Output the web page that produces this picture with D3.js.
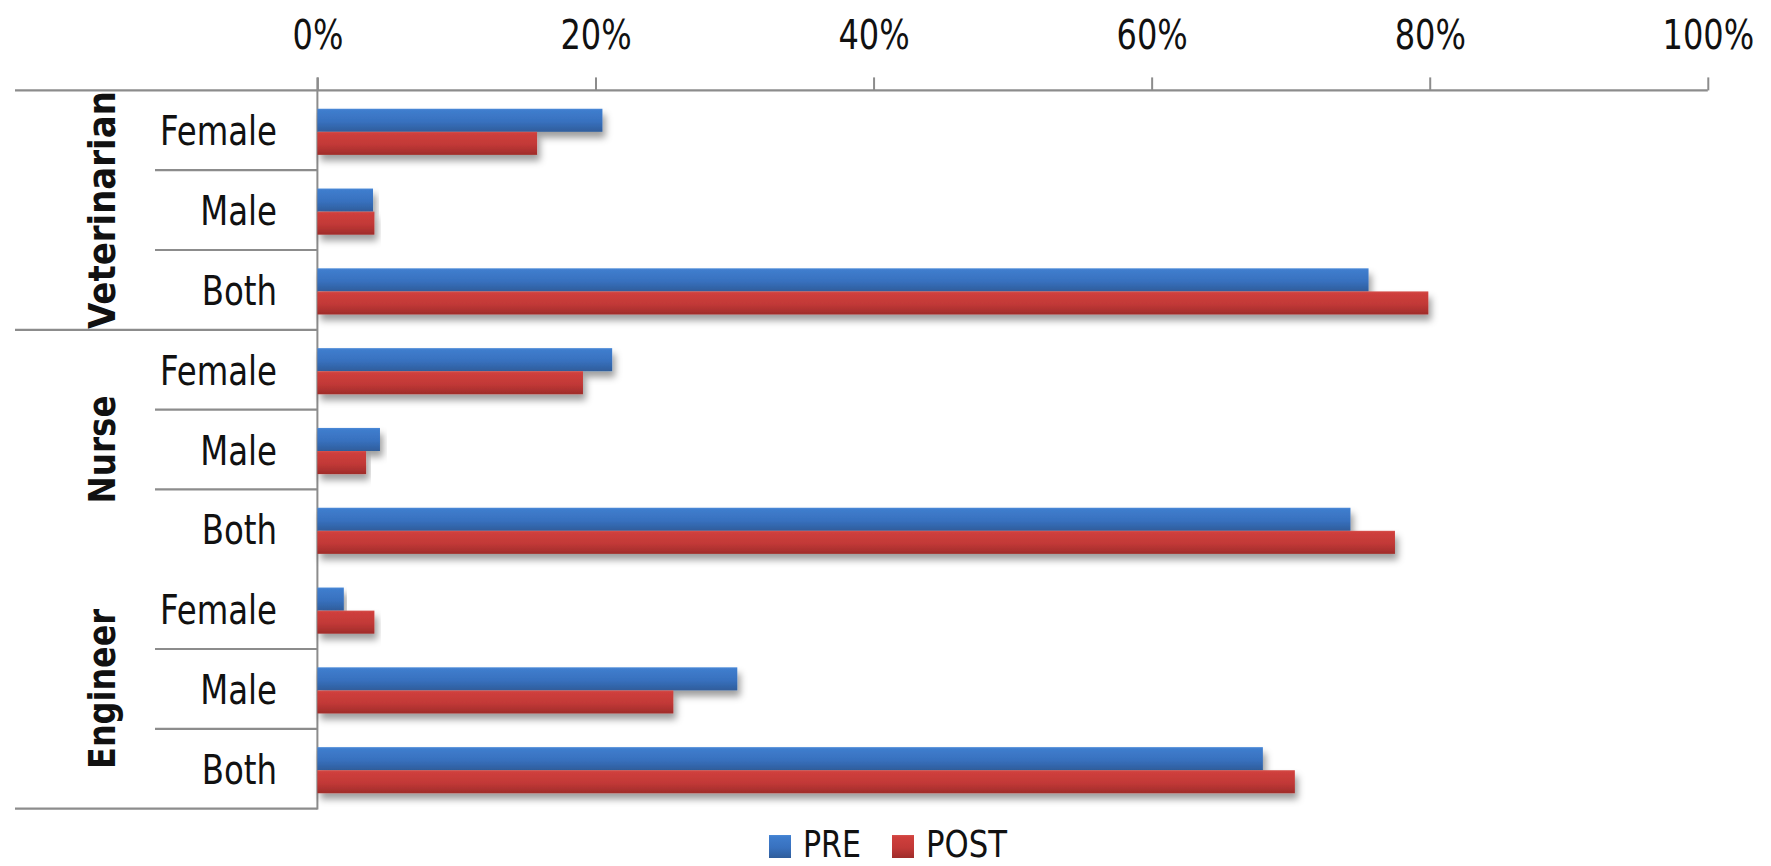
<!DOCTYPE html>
<html>
<head>
<meta charset="utf-8">
<script src="https://cdn.jsdelivr.net/npm/d3@7"></script>
<style>
  html, body { margin: 0; padding: 0; background: #ffffff; }
  svg { display: block; }
</style>
</head>
<body>
<svg id="chart" width="1771" height="866"></svg>
<script>
// ---------------- data ----------------
const groups = ["Veterinarian", "Nurse", "Engineer"];
const subgroups = ["Female", "Male", "Both"];
const series = ["PRE", "POST"];
const preValues  = [0.205, 0.040, 0.756, 0.212, 0.045, 0.743, 0.019, 0.302, 0.680];
const postValues = [0.158, 0.041, 0.799, 0.191, 0.035, 0.775, 0.041, 0.256, 0.703];
const tickValues = [0, 0.2, 0.4, 0.6, 0.8, 1.0];
const tickLabels = ["0%", "20%", "40%", "60%", "80%", "100%"];
const groupsWithSeparator = ["Veterinarian"]; // separator lines drawn below these groups

(function () {
// ---------------- build rows ----------------
const rows = [];
groups.forEach((g, gi) => {
  subgroups.forEach((s, si) => {
    const i = gi * subgroups.length + si;
    rows.push({ id: g + "|" + s, group: g, sub: s, PRE: preValues[i], POST: postValues[i] });
  });
});

const svg = d3.select("#chart");

const plotLeft = 317.4, plotRight = 1707.8, plotTop = 90.4, plotBottom = 808.6;
const labelLineLeft = 15, subLineLeft = 155;

const x = d3.scaleLinear().domain([0, 1]).range([plotLeft, plotRight]);
const y = d3.scaleBand().domain(rows.map(d => d.id)).range([plotTop, plotBottom]).padding(0);
const yInner = d3.scaleBand().domain(series).range([0, y.bandwidth()]).paddingInner(0).paddingOuter(0.73);
const color = d3.scaleOrdinal().domain(series).range(["blue", "red"]);

// condense text horizontally (reference font is narrow, Calibri-like)
function condense(sel, k) {
  sel.each(function () {
    const w = this.getComputedTextLength();
    d3.select(this).attr("textLength", (w * k).toFixed(1)).attr("lengthAdjust", "spacingAndGlyphs");
  });
}

// ---------------- defs ----------------
const defs = svg.append("defs");
const grads = {
  blue: [["0%", "#4b8ad8"], ["8%", "#3f7dcd"], ["55%", "#3871bf"], ["100%", "#2f5d9b"]],
  red:  [["0%", "#d6524e"], ["8%", "#cf3f3c"], ["55%", "#c23937"], ["100%", "#9f2c2a"]]
};
Object.entries(grads).forEach(([k, stops]) => {
  const lg = defs.append("linearGradient").attr("id", "grad-" + k)
    .attr("x1", 0).attr("y1", 0).attr("x2", 0).attr("y2", 1);
  stops.forEach(([o, c]) => lg.append("stop").attr("offset", o).attr("stop-color", c));
});
const f = defs.append("filter").attr("id", "shadow")
  .attr("x", "-5%").attr("y", "-30%").attr("width", "115%").attr("height", "190%");
f.append("feDropShadow").attr("dx", 3).attr("dy", 6).attr("stdDeviation", 3.5)
  .attr("flood-color", "#000").attr("flood-opacity", 0.38);

const lineColor = "#8c8c8c";
const labelFont = "'Liberation Sans Narrow', 'Arial Narrow', 'DejaVu Sans Condensed', 'Liberation Sans', sans-serif";

// ---------------- top axis ----------------
const axis = d3.axisTop(x)
  .tickValues(tickValues)
  .tickFormat((d, i) => tickLabels[i])
  .tickSize(13)
  .tickPadding(28);
const gAxis = svg.append("g").attr("transform", `translate(0,${plotTop})`).call(axis);
gAxis.select(".domain").remove();
gAxis.selectAll(".tick line").attr("stroke", lineColor).attr("stroke-width", 2);
gAxis.selectAll(".tick text")
  .attr("font-family", labelFont)
  .attr("font-size", 40)
  .attr("fill", "#111")
  .call(condense, 0.89);

// full top line (axis + label area)
svg.append("line")
  .attr("x1", labelLineLeft).attr("x2", plotRight)
  .attr("y1", plotTop).attr("y2", plotTop)
  .attr("stroke", lineColor).attr("stroke-width", 2.2);

// vertical category axis line
svg.append("line")
  .attr("x1", plotLeft).attr("x2", plotLeft)
  .attr("y1", plotTop - 13).attr("y2", plotBottom + 1)
  .attr("stroke", lineColor).attr("stroke-width", 2);

// sub separators (between subgroups within each group)
const subSepRows = rows.filter(d => d.sub !== subgroups[0]);
svg.append("g").selectAll("line").data(subSepRows).join("line")
  .attr("x1", subLineLeft).attr("x2", plotLeft)
  .attr("y1", d => y(d.id)).attr("y2", d => y(d.id))
  .attr("stroke", lineColor).attr("stroke-width", 2.2);

// group separators
const lastRows = rows.filter(d => d.sub === subgroups[subgroups.length - 1] &&
  (groupsWithSeparator.includes(d.group) || d.group === groups[groups.length - 1]));
svg.append("g").selectAll("line").data(lastRows).join("line")
  .attr("x1", labelLineLeft).attr("x2", plotLeft)
  .attr("y1", d => y(d.id) + y.bandwidth()).attr("y2", d => y(d.id) + y.bandwidth())
  .attr("stroke", lineColor).attr("stroke-width", 2.2);

// ---------------- bars ----------------
const gBars = svg.append("g").attr("transform", "translate(0,1.5)");
series.forEach(s => {
  gBars.append("g").selectAll("rect").data(rows).join("rect")
    .attr("x", x(0))
    .attr("y", d => y(d.id) + yInner(s))
    .attr("width", d => x(d[s]) - x(0))
    .attr("height", yInner.bandwidth())
    .attr("fill", `url(#grad-${color(s)})`)
    .attr("filter", "url(#shadow)");
});

// ---------------- subgroup labels ----------------
svg.append("g").selectAll("text").data(rows).join("text")
  .attr("x", 277)
  .attr("y", d => y(d.id) + y.bandwidth() / 2 + 15)
  .attr("text-anchor", "end")
  .attr("font-family", labelFont)
  .attr("font-size", 40)
  .attr("fill", "#111")
  .text(d => d.sub)
  .call(condense, 0.9);

// ---------------- group labels ----------------
const groupLen = { "Veterinarian": 238, "Nurse": 108, "Engineer": 160 };
svg.append("g").selectAll("text").data(groups).join("text")
  .attr("transform", g => {
    const first = y(g + "|" + subgroups[0]);
    const last = y(g + "|" + subgroups[subgroups.length - 1]) + y.bandwidth();
    return `translate(115,${(first + last) / 2}) rotate(-90)`;
  })
  .attr("text-anchor", "middle")
  .attr("font-family", "'DejaVu Sans', sans-serif")
  .attr("font-weight", "bold")
  .attr("font-size", 38)
  .attr("textLength", g => groupLen[g])
  .attr("lengthAdjust", "spacingAndGlyphs")
  .attr("fill", "#111")
  .text(g => g);

// ---------------- legend ----------------
const legend = svg.append("g").attr("transform", "translate(769,834)");
const legendTextLen = { "PRE": 58, "POST": 81 };
let lx = 0;
series.forEach(s => {
  const item = legend.append("g").attr("transform", `translate(${lx},0)`);
  item.append("rect").attr("y", 1).attr("width", 22).attr("height", 23)
    .attr("fill", `url(#grad-${color(s)})`);
  item.append("text").attr("x", 34).attr("y", 23)
    .attr("font-family", labelFont)
    .attr("font-size", 37)
    .attr("textLength", legendTextLen[s])
    .attr("lengthAdjust", "spacingAndGlyphs")
    .attr("fill", "#111")
    .text(s);
  lx += 34 + legendTextLen[s] + 31;
});
})();
</script>
</body>
</html>
